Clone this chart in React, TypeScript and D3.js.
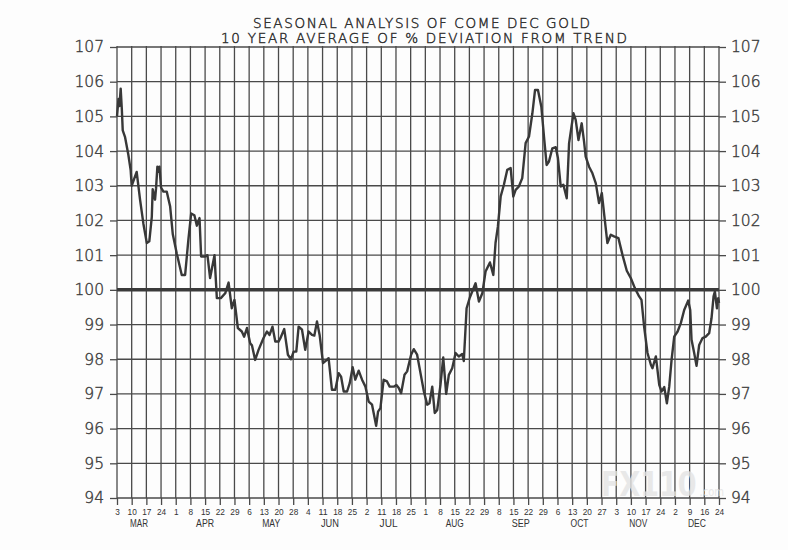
import { useEffect, useRef } from "react";
import * as d3 from "d3";

const dayLabels = [
  "3", "10", "17", "24", "1", "8", "15", "22", "29", "6", "13", "20", "28",
  "4", "11", "18", "25", "2", "11", "18", "25", "1", "8", "15", "22", "29",
  "8", "15", "22", "29", "6", "13", "20", "27", "3", "10", "17", "24", "2",
  "9", "16", "24",
];

// month name, first tick index, last tick index
const months: [string, number, number][] = [
  ["MAR", 0, 3], ["APR", 4, 8], ["MAY", 9, 12], ["JUN", 13, 16], ["JUL", 17, 20],
  ["AUG", 21, 25], ["SEP", 26, 29], ["OCT", 30, 33], ["NOV", 34, 37], ["DEC", 38, 41],
];

const yTicks = d3.range(94, 108);

// position in weeks from Mar 3, and % of trend
const weekPos = [
  0, 0.1, 0.17, 0.25, 0.33, 0.39, 0.55, 0.77, 0.93, 1.0, 1.34, 1.57, 1.8, 2.03, 2.2,
  2.37, 2.43, 2.59, 2.66, 2.75, 2.82, 2.89, 3.0, 3.16, 3.39, 3.62, 3.8, 4.07, 4.41,
  4.64, 4.86, 5.05, 5.27, 5.44, 5.62, 5.73, 6.0, 6.16, 6.34, 6.64, 6.8, 7.07, 7.37,
  7.6, 7.82, 8.0, 8.23, 8.5, 8.66, 8.85, 9.07, 9.19, 9.41, 9.64, 9.98, 10.21, 10.39,
  10.59, 10.78, 11.0, 11.12, 11.39, 11.64, 11.85, 12.03, 12.21, 12.37, 12.6, 12.82,
  13.05, 13.28, 13.44, 13.62, 13.8, 14.03, 14.3, 14.41, 14.64, 14.87, 15.1, 15.26,
  15.44, 15.67, 15.85, 16.05, 16.23, 16.46, 16.69, 16.92, 17.14, 17.37, 17.65, 17.78,
  17.94, 18.16, 18.39, 18.57, 18.85, 19.03, 19.19, 19.35, 19.58, 19.76, 20.03, 20.21,
  20.44, 20.67, 20.9, 21.13, 21.28, 21.47, 21.64, 21.81, 22.03, 22.22, 22.42, 22.6,
  22.83, 23.06, 23.28, 23.51, 23.62, 23.81, 24.03, 24.42, 24.65, 24.88, 25.1, 25.4,
  25.63, 25.78, 25.94, 26.13, 26.35, 26.58, 26.81, 26.99, 27.15, 27.37, 27.6, 27.83,
  28.06, 28.29, 28.47, 28.67, 28.9, 29.08, 29.26, 29.42, 29.65, 29.88, 30.03, 30.22,
  30.4, 30.63, 30.79, 31.09, 31.24, 31.43, 31.65, 31.81, 31.92, 32.15, 32.38, 32.61,
  32.83, 33.02, 33.17, 33.4, 33.63, 33.85, 34.15, 34.43, 34.72, 34.99, 35.27, 35.56,
  35.72, 35.9, 36.13, 36.36, 36.47, 36.7, 36.93, 37.09, 37.27, 37.45, 37.61, 37.77,
  37.95, 38.18, 38.4, 38.63, 38.9, 39.04, 39.13, 39.31, 39.47, 39.65, 39.88, 40.1,
  40.33, 40.49, 40.63, 40.72, 40.86, 40.95, 41.0,
];

const pctValues = [
  105.0, 105.5, 105.3, 105.8, 105.2, 104.6, 104.4, 103.9, 103.45, 103.0, 103.4, 102.6,
  101.9, 101.35, 101.4, 102.1, 102.9, 102.6, 102.93, 103.55, 103.4, 103.55, 102.95,
  102.83, 102.83, 102.4, 101.6, 101.05, 100.43, 100.43, 101.44, 102.2, 102.15, 101.85,
  102.07, 100.96, 100.96, 101.0, 100.34, 101.0, 99.76, 99.76, 99.9, 100.21, 99.47,
  99.71, 98.9, 98.8, 98.65, 98.9, 98.46, 98.4, 97.98, 98.27, 98.61, 98.8, 98.7, 98.94,
  98.51, 98.51, 98.6, 98.87, 98.13, 98.0, 98.22, 98.22, 98.94, 98.85, 98.27, 98.8,
  98.7, 98.68, 99.09, 98.7, 97.89, 97.98, 98.03, 97.12, 97.12, 97.6, 97.5, 97.07,
  97.07, 97.31, 97.77, 97.41, 97.67, 97.41, 97.21, 96.78, 96.69, 96.08, 96.49, 96.59,
  97.41, 97.36, 97.21, 97.21, 97.26, 97.17, 97.02, 97.55, 97.65, 98.13, 98.29, 98.13,
  97.6, 97.07, 96.69, 96.73, 97.21, 96.45, 96.54, 97.26, 98.05, 97.0, 97.55, 97.74,
  98.18, 98.08, 98.15, 97.95, 99.47, 99.78, 100.19, 99.66, 99.9, 100.53, 100.79,
  100.43, 101.35, 101.82, 102.69, 103.03, 103.46, 103.51, 102.69, 102.88, 102.98,
  103.22, 104.23, 104.42, 105.09, 105.76, 105.76, 105.28, 104.42, 103.6, 103.7, 104.08,
  104.11, 103.8, 102.98, 103.03, 102.64, 104.23, 105.09, 104.9, 104.32, 104.8, 104.27,
  103.84, 103.55, 103.36, 103.07, 102.5, 102.79, 102.21, 101.35, 101.59, 101.54,
  101.49, 101.0, 100.55, 100.34, 100.05, 99.81, 99.71, 98.94, 98.18, 97.84, 97.74,
  98.08, 97.26, 97.07, 97.2, 96.73, 97.21, 97.98, 98.65, 98.8, 99.04, 99.42, 99.69,
  99.42, 98.56, 98.18, 97.81, 98.41, 98.61, 98.65, 98.75, 99.18, 99.81, 99.95, 99.47,
  99.76, 99.62,
];

const titleLines = [
  "SEASONAL ANALYSIS OF COME DEC GOLD",
  "10 YEAR AVERAGE OF % DEVIATION FROM TREND",
];

const W = 788;
const H = 550;
const ink = "#333";
const font = "'Liberation Sans', Arial, sans-serif";
const thinFont = "'DejaVu Sans', sans-serif";

const SeasonalChart = () => {
  const svgRef = useRef<SVGSVGElement | null>(null);

  useEffect(() => {
    const svg = d3.select(svgRef.current);
    svg.selectAll("*").remove();

    const left = 117, right = 719, top = 47, bottom = 498;
    const x = d3.scaleLinear().domain([0, dayLabels.length - 1]).range([left, right]);
    const y = d3.scaleLinear().domain([94, 107]).range([bottom, top]);

    svg.append("rect").attr("width", W).attr("height", H).attr("fill", "#fdfdfd");

    // title
    svg.selectAll(".title")
      .data(titleLines)
      .enter()
      .append("text")
      .attr("x", (_, i) => (i === 0 ? 421.5 : 424))
      .attr("y", (_, i) => (i === 0 ? 27.5 : 43.3))
      .attr("text-anchor", "middle")
      .attr("textLength", (_, i) => (i === 0 ? 337 : 406))
      .attr("lengthAdjust", "spacing")
      .attr("font-family", thinFont)
      .attr("font-weight", 200)
      .attr("font-size", 13.5)
      .attr("fill", "#222")
      .attr("stroke", "#333")
      .attr("stroke-width", 0.45)
      .text((d) => d);

    const g = svg.append("g");

    // grid
    g.selectAll(".vgrid")
      .data(d3.range(dayLabels.length))
      .enter()
      .append("line")
      .attr("x1", (d) => x(d))
      .attr("x2", (d) => x(d))
      .attr("y1", top - 1)
      .attr("y2", bottom)
      .attr("stroke", "#4a4a4a")
      .attr("stroke-width", 1.3);

    g.selectAll(".hgrid")
      .data(yTicks)
      .enter()
      .append("line")
      .attr("x1", left)
      .attr("x2", right)
      .attr("y1", (d) => y(d))
      .attr("y2", (d) => y(d))
      .attr("stroke", "#4a4a4a")
      .attr("stroke-width", 1.3);

    // axes
    const styleAxis = (
      sel: d3.Selection<SVGGElement, unknown, null, undefined>,
      size: number,
      family: string,
      weight: number
    ) => {
      sel.select(".domain").remove();
      sel.selectAll("line").attr("stroke", "#4a4a4a").attr("stroke-width", 1.3);
      sel.selectAll("text")
        .attr("font-family", family)
        .attr("font-weight", weight)
        .attr("font-size", size)
        .attr("fill", ink);
    };

    const leftAxis = g.append("g")
      .attr("transform", `translate(${left},0)`)
      .call(d3.axisLeft(y).tickValues(yTicks).tickFormat(d3.format("d")).tickSize(7).tickPadding(6));
    styleAxis(leftAxis, 15.5, thinFont, 200);
    leftAxis.selectAll("text").attr("stroke", "#444").attr("stroke-width", 0.4);

    const rightAxis = g.append("g")
      .attr("transform", `translate(${right},0)`)
      .call(d3.axisRight(y).tickValues(yTicks).tickFormat(d3.format("d")).tickSize(7).tickPadding(5));
    styleAxis(rightAxis, 15.5, thinFont, 200);
    rightAxis.selectAll("text").attr("stroke", "#444").attr("stroke-width", 0.4);

    const bottomAxis = g.append("g")
      .attr("transform", `translate(0,${bottom})`)
      .call(
        d3.axisBottom(x)
          .tickValues(d3.range(dayLabels.length))
          .tickFormat((d) => dayLabels[d as number])
          .tickSize(7)
          .tickPadding(3)
      );
    styleAxis(bottomAxis, 9.5, font, 400);
    bottomAxis.selectAll<SVGTextElement, number>("text")
      .attr("textLength", (d) => dayLabels[d].length * 4.6)
      .attr("lengthAdjust", "spacingAndGlyphs");

    g.selectAll(".month")
      .data(months)
      .enter()
      .append("text")
      .attr("x", (d) => x((d[1] + d[2]) / 2))
      .attr("y", 527)
      .attr("text-anchor", "middle")
      .attr("textLength", 18)
      .attr("lengthAdjust", "spacingAndGlyphs")
      .attr("font-family", font)
      .attr("font-size", 10)
      .attr("fill", ink)
      .text((d) => d[0]);

    // trend line at 100
    g.append("line")
      .attr("x1", left)
      .attr("x2", right)
      .attr("y1", y(100))
      .attr("y2", y(100))
      .attr("stroke", "#3a3a3a")
      .attr("stroke-width", 3.5);

    // seasonal line
    const pts = weekPos.map((w, i) => [w, pctValues[i]] as [number, number]);
    const line = d3.line<[number, number]>()
      .x((d) => x(d[0]))
      .y((d) => y(d[1]));

    g.append("path")
      .datum(pts)
      .attr("d", line)
      .attr("fill", "none")
      .attr("stroke", "#383838")
      .attr("stroke-width", 2.4)
      .attr("stroke-linejoin", "round");

    // watermark
    const wm = svg.append("text")
      .attr("transform", "translate(601,496) scale(1,1.25)")
      .attr("opacity", 0.8)
      .attr("font-family", "'DejaVu Sans', sans-serif")
      .attr("font-weight", "bold")
      .attr("font-size", 27)
      .attr("fill", "#e4e4e4");
    wm.append("tspan").text("FX110");
    wm.append("tspan")
      .attr("dx", 3)
      .attr("font-weight", "normal")
      .attr("font-size", 10)
      .text(".com");
  }, []);

  return (
    <svg
      ref={svgRef}
      width={W}
      height={H}
      style={{ position: "absolute", left: 0, top: 0 }}
    ></svg>
  );
};

export default function App() {
  return <SeasonalChart />;
}
